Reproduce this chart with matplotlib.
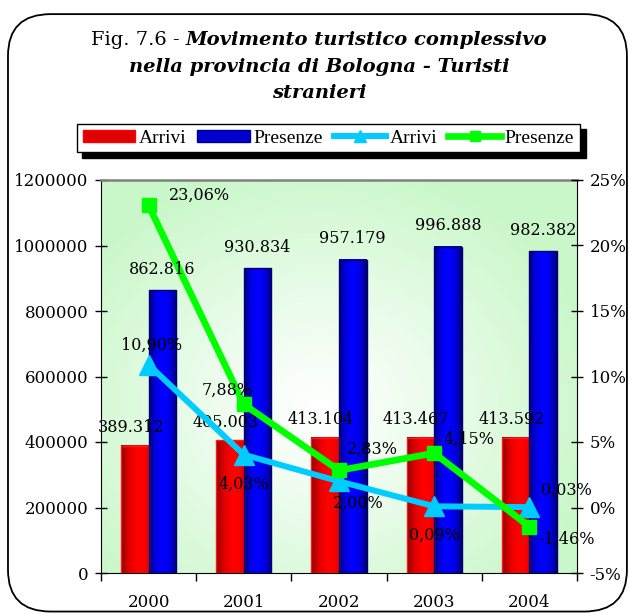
import numpy as np
import matplotlib
matplotlib.use('Agg')
import matplotlib.pyplot as plt
from matplotlib.patches import FancyBboxPatch, Patch
from matplotlib.lines import Line2D

# dati (turisti stranieri, provincia di Bologna)
anni = ['2000', '2001', '2002', '2003', '2004']
arrivi = [389312, 405003, 413104, 413467, 413592]
presenze = [862816, 930834, 957179, 996888, 982382]
var_arrivi = [10.90, 4.03, 2.00, 0.09, 0.03]
var_presenze = [23.06, 7.88, 2.83, 4.15, -1.46]

# posizione etichette delle variazioni (punti) come nell'originale
off_arrivi = [(2, 14), (0, -21), (14, -16), (0, -21), (27, 12)]
off_presenze = [(37, 7), (-12, 10), (24, 15), (25, 10), (27, -9)]

plt.rcParams['font.family'] = 'DejaVu Serif'

def fmt_num(v):
    return f'{v:,}'.replace(',', '.')

def fmt_pct(v):
    return f'{v:.2f}%'.replace('.', ',')

fig = plt.figure(figsize=(6.29, 6.14), dpi=100)
fig.patch.set_facecolor('white')

# cornice arrotondata
frame = FancyBboxPatch((0.0127, 0.004), 0.984, 0.973,
                       boxstyle='round,pad=0,rounding_size=0.068',
                       transform=fig.transFigure, fc='white', ec='black',
                       lw=1.3, zorder=-1)
fig.add_artist(frame)

ax = fig.add_axes([101/629, 41/614, 476/629, 393/614])

# sfondo sfumato verde
g = np.linspace(0, 1, 300)
U, V = np.meshgrid(g, g)
d = np.sqrt(((U - 0.46) / 0.6) ** 2 + ((V - 0.42) / 0.64) ** 2)
d = np.clip(d, 0, 1) ** 1.1
white = np.array([1.0, 1.0, 1.0])
green = np.array([0.79, 0.97, 0.79])
bg = white[None, None, :] * (1 - d[..., None]) + green[None, None, :] * d[..., None]
ax.imshow(bg, extent=(0, 1, 0, 1), transform=ax.transAxes, origin='lower',
          aspect='auto', zorder=0, interpolation='bilinear')

x = np.arange(len(anni))
w = 0.29
b1 = ax.bar(x - w/2, arrivi, w, facecolor='none', edgecolor='#ff1a1a', lw=1, zorder=3)
b2 = ax.bar(x + w/2, presenze, w, facecolor='none', edgecolor='#00006a', lw=1, zorder=3)

def shade(bars, dark, bright, skew):
    t = np.linspace(0, 1, 64)
    p = np.sin(np.pi * np.clip(t * skew, 0, 1)) ** 0.6
    dark = np.array(dark)
    bright = np.array(bright)
    row = dark[None, :] + (bright - dark)[None, :] * p[:, None]
    img = row[None, :, :]
    for b in bars:
        ax.imshow(img, extent=(b.get_x(), b.get_x() + b.get_width(), 0, b.get_height()),
                  aspect='auto', zorder=2, interpolation='bilinear')

shade(b1, (0.45, 0.0, 0.0), (1.0, 0.0, 0.0), 0.75)
shade(b2, (0.0, 0.0, 0.35), (0.0, 0.0, 1.0), 1.0)

ax.set_xlim(-0.5, 4.5)
ax.set_ylim(0, 1200000)
ax.set_yticks(range(0, 1200001, 200000))
ax.set_yticklabels([str(v) for v in range(0, 1200001, 200000)])
ax.set_xticks(np.arange(-0.5, 5, 1))
ax.set_xticklabels([])
ax.set_xticks(x, minor=True)
ax.set_xticklabels(anni, minor=True)
ax.tick_params(axis='x', which='major', direction='out', length=6, width=1)
ax.tick_params(axis='x', which='minor', length=0, pad=15, labelsize=12)
ax.tick_params(axis='y', direction='inout', length=8, width=1, pad=5, labelsize=12)
ax.spines['top'].set_color('#808080')
ax.spines['top'].set_linewidth(1.8)
ax.spines['right'].set_visible(False)

for b, v in zip(b1, arrivi):
    ax.annotate(fmt_num(v), (b.get_x() + b.get_width()/2, b.get_height()),
                xytext=(-3, 13), textcoords='offset points', ha='center', va='center',
                fontsize=11.5, zorder=10)

ax2 = ax.twinx()
ax2.patch.set_visible(False)
for s in ['top', 'left', 'bottom']:
    ax2.spines[s].set_visible(False)
ax2.plot(x, var_arrivi, color='#00ccff', lw=4.3, marker='^', ms=15, zorder=3)
ax2.plot(x, var_presenze, color='#00ff00', lw=4.8, marker='s', ms=9.5, zorder=4)
ax2.set_ylim(-5, 25)
ax2.set_yticks(range(-5, 26, 5))
ax2.set_yticklabels([f'{v}%' for v in range(-5, 26, 5)])
ax2.tick_params(axis='y', direction='inout', length=8, width=1, pad=5, labelsize=12)

for b, v in zip(b2, presenze):
    ax2.annotate(fmt_num(v), (b.get_x() + b.get_width()/2, b.get_height()),
                 xycoords=ax.transData, xytext=(0, 15), textcoords='offset points',
                 ha='center', va='center', fontsize=11.5, zorder=10)
for xi, v, o in zip(x, var_arrivi, off_arrivi):
    ax2.annotate(fmt_pct(v), (xi, v), xytext=o, textcoords='offset points',
                 ha='center', va='center', fontsize=11.5, zorder=10)
for xi, v, o in zip(x, var_presenze, off_presenze):
    ax2.annotate(fmt_pct(v), (xi, v), xytext=o, textcoords='offset points',
                 ha='center', va='center', fontsize=11.5, zorder=10)

# legenda
handles = [Patch(facecolor='#e00000', edgecolor='#ff0000'),
           Patch(facecolor='#0000d0', edgecolor='#000080'),
           Line2D([], [], color='#00ccff', lw=4.3, marker='^', ms=9),
           Line2D([], [], color='#00ff00', lw=4.8, marker='s', ms=7)]
leg = fig.legend(handles, ['Arrivi', 'Presenze', 'Arrivi', 'Presenze'],
                 loc='center', bbox_to_anchor=(0.522, 0.775), ncol=4,
                 fancybox=False,
                 shadow={'color': 'k', 'alpha': 1, 'ox': 4, 'oy': -4},
                 framealpha=1, edgecolor='k',
                 prop={'family': 'Liberation Serif', 'size': 14},
                 handlelength=2.7, handleheight=0.6, handletextpad=0.2,
                 columnspacing=0.55, borderpad=0.3)
leg.get_frame().set_linewidth(1)

# titolo
xc = 0.507
t1 = fig.text(0, 0.935, 'Fig. 7.6 - ', fontsize=14, va='center')
t2 = fig.text(0, 0.935, 'Movimento turistico complessivo', fontsize=14,
              weight='bold', style='italic', va='center')
fig.text(xc, 0.891, 'nella provincia di Bologna - Turisti', fontsize=14,
         weight='bold', style='italic', va='center', ha='center')
fig.text(xc, 0.849, 'stranieri', fontsize=14, weight='bold', style='italic',
         va='center', ha='center')
fig.canvas.draw()
r = fig.canvas.get_renderer()
w1 = t1.get_window_extent(r).width / fig.bbox.width
w2 = t2.get_window_extent(r).width / fig.bbox.width
t1.set_x(xc - (w1 + w2) / 2)
t2.set_x(xc - (w1 + w2) / 2 + w1)

fig.savefig('out.png', dpi=100)
